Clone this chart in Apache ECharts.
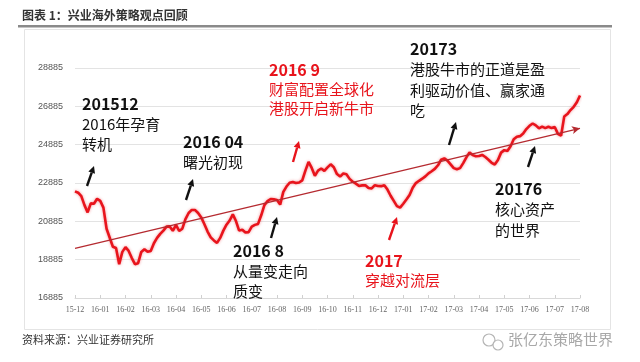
<!DOCTYPE html>
<html><head><meta charset="utf-8">
<script src="https://cdn.jsdelivr.net/npm/echarts@6/dist/echarts.min.js"></script>
<style>html,body{margin:0;padding:0;background:#fff}#c{width:640px;height:362px}</style>
</head><body><div id="c"></div>
<script>
// ---- data ----
const months = ['15-12','16-01','16-02','16-03','16-04','16-05','16-06','16-07','16-08','16-09','16-10',
  '16-11','16-12','17-01','17-02','17-03','17-04','17-05','17-06','17-07','17-08'];
const perMonth = 8; // samples per month
const values = [
  22450,22380,22200,21730,21350,21820,21800,22060,
  21950,21600,20500,20030,19560,19490,18650,19290,
  19540,19340,18970,18650,18700,19290,19430,19300,
  19340,19740,20020,20230,20400,20610,20620,20390,
  20700,20380,20500,21000,21320,21480,21480,21320,
  21090,20730,20350,20050,19890,19760,20020,20400,
  20710,20930,21250,20900,20400,20450,20300,20320,
  20610,20700,20750,21200,21730,21940,22050,22030,
  22000,21760,22420,22700,22900,22940,22880,22910,
  23020,23530,23990,23670,23260,23530,23640,23520,
  23700,23860,23710,23350,23220,23380,23340,23100,
  22950,22850,22730,22760,22770,22620,22600,22770,
  22730,22720,22770,22540,22220,21950,21680,21600,
  21800,22020,22260,22640,22880,23000,23110,23230,
  23390,23500,23620,23810,24100,24170,24050,23860,
  23660,23600,23660,23920,24220,24480,24340,24280,
  24290,24350,24240,24100,23940,23850,24080,24470,
  24600,24550,24800,25170,25300,25330,25470,25700,
  25870,25990,25890,25740,25830,25750,25820,25750,
  25810,25450,25350,26350,26480,26690,26860,27100,
  27450
];
const trend = [19480, 25740]; // trend line start / end values
const yBase = 16885, yStep = 2000, yMax = 28885;

const annotations = [
  {x:82,  y:104, color:'#111', lines:['201512','2016年孕育','转机'], arrow:[87,186,94,166]},
  {x:183, y:142, color:'#111', lines:['2016 04','曙光初现'], arrow:[186,200,193,179]},
  {x:269, y:70,  color:'#e8141c', lines:['2016 9','财富配置全球化','港股开启新牛市'], lh:19, arrow:[293,162,299,141]},
  {x:233, y:251, color:'#111', lines:['2016 8','从量变走向','质变'], arrow:[271,238,277,217]},
  {x:365, y:261, color:'#e8141c', lines:['2017','穿越对流层'], lh:19, arrow:[389,240,397,217]},
  {x:410, y:49,  color:'#111', lines:['20173','港股牛市的正道是盈','利驱动价值、赢家通','吃'], lh:20.5, arrow:[449,145,456,122]},
  {x:495, y:189, color:'#111', lines:['20176','核心资产','的世界'], lh:20.5, arrow:[528,167,535,146]}
];

// ---- build ----
const cats = values.map((v,i)=> i%perMonth===0 ? months[i/perMonth] : '');
const seriesData = values.map(v=>v-yBase);

function arrow(x1,y1,x2,y2,color){
  const dx=x2-x1, dy=y2-y1, L=Math.sqrt(dx*dx+dy*dy), ux=dx/L, uy=dy/L;
  const hl=7, hw=3.5;
  const bx=x2-ux*hl, by=y2-uy*hl;
  return [
    {type:'line', shape:{x1:x1,y1:y1,x2:bx,y2:by}, style:{stroke:color, lineWidth:2.4}, z:10},
    {type:'polygon', shape:{points:[[x2,y2],[bx-uy*hw,by+ux*hw],[bx+uy*hw,by-ux*hw]]}, style:{fill:color}, z:10}
  ];
}
const graphics = [
  {type:'text', left:22, top:9, style:{text:'图表 1：兴业海外策略观点回顾', fontSize:12, fontWeight:'bold', fill:'#333', fontFamily:'Noto Sans CJK SC'}},
  {type:'rect', shape:{x:18,y:25,width:594,height:2.4}, style:{fill:'#8a8a8a'}},
  {type:'rect', shape:{x:24.5,y:29.5,width:586,height:300}, style:{fill:'none', stroke:'#e4e4e4', lineWidth:1}},
  {type:'text', left:22, top:334, style:{text:'资料来源：兴业证券研究所', fontSize:11, fill:'#333', fontFamily:'Noto Sans CJK SC'}},
  {type:'text', left:508, top:332, style:{text:'张亿东策略世界', fontSize:15, fill:'#a8a8a8', fontFamily:'Noto Sans CJK SC'}},
  {type:'circle', shape:{cx:489,cy:340,r:6}, style:{fill:'none', stroke:'#b5b5b5', lineWidth:1.2}},
  {type:'circle', shape:{cx:498,cy:345,r:5}, style:{fill:'#fff', stroke:'#b5b5b5', lineWidth:1.2}}
];
annotations.forEach(a=>{
  const lh=a.lh||20;
  a.lines.forEach((t,k)=>{
    const isDate=k===0;
    graphics.push({type:'text', x:a.x, y:a.y+k*lh, z:10, style:{
      text:t, fill:a.color, fontSize: isDate?16:15, fontWeight: isDate?'bold':'normal',
      fontFamily: isDate?'Liberation Sans Narrow, Noto Sans CJK SC':'Noto Sans CJK SC',
      textVerticalAlign:'middle', verticalAlign:'middle'}});
  });
  graphics.push(...arrow(a.arrow[0],a.arrow[1],a.arrow[2],a.arrow[3],a.color));
});

const chart = echarts.init(document.getElementById('c'), null, {renderer:'canvas'});
chart.setOption({
  animation:false,
  backgroundColor:'#fff',
  grid:{left:75, right:60, top:68, bottom:64, containLabel:false},
  xAxis:{type:'category', data:cats, boundaryGap:false,
    axisLine:{show:true, lineStyle:{color:'#d9d9d9'}},
    axisTick:{show:true, interval:perMonth-1, length:3, inside:true, lineStyle:{color:'#d0d0d0'}},
    axisLabel:{interval:perMonth-1, fontSize:8, color:'#666', margin:8, fontFamily:'Liberation Sans Narrow'},
    splitLine:{show:false}},
  yAxis:{type:'value', min:0, max:yMax-yBase, interval:yStep,
    axisLine:{show:false}, axisTick:{show:false},
    axisLabel:{fontSize:9, color:'#555', margin:12, formatter:v=>String(v+yBase)},
    splitLine:{lineStyle:{color:'#e3e3e3', width:1}}},
  series:[{
    type:'line', data:seriesData, symbol:'none', smooth:false,
    lineStyle:{color:'#e8141c', width:2.6, shadowBlur:3, shadowColor:'rgba(232,20,28,0.45)'},
    markLine:{silent:true, symbol:['none','arrow'], symbolSize:[6,8], label:{show:false},
      lineStyle:{color:'#b52a30', width:1.3, type:'solid'},
      data:[[{coord:[0, trend[0]-yBase]},{coord:[values.length-1, trend[1]-yBase]}]]}
  }],
  graphic:graphics
});
</script></body></html>
